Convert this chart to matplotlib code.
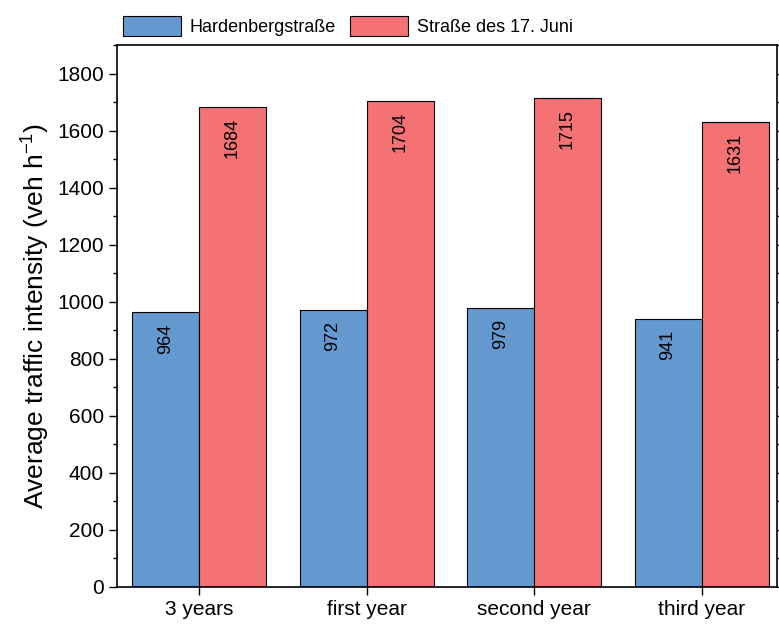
import matplotlib.pyplot as plt
import numpy as np
from matplotlib.ticker import MultipleLocator

categories = ["3 years", "first year", "second year", "third year"]
hardenberg = [964, 972, 979, 941]
juni = [1684, 1704, 1715, 1631]

plt.rcParams['font.family'] = ['Liberation Sans', 'DejaVu Sans']
plt.rcParams['axes.unicode_minus'] = False

fig = plt.figure(figsize=(7.79, 6.26), dpi=100)
ax = fig.add_axes([117/779, 1-587/626, 660/779, 542/626])

x = np.arange(len(categories))
w = 0.4
b1 = ax.bar(x - w/2, hardenberg, w, color="#6499cf", edgecolor="black", linewidth=0.8, label="Hardenbergstraße")
b2 = ax.bar(x + w/2, juni, w, color="#f47174", edgecolor="black", linewidth=0.8, label="Straße des 17. Juni")

for bars, vals in ((b1, hardenberg), (b2, juni)):
    for r, v in zip(bars, vals):
        ax.text(r.get_x() + r.get_width()/2, v - 40, str(v), rotation=90,
                ha="center", va="top", fontsize=13)

ax.set_ylim(0, 1900)
ax.set_xlim(-0.49, 3.45)
ax.set_xticks(x)
ax.set_xticklabels(categories, fontsize=15)
ax.yaxis.set_major_locator(MultipleLocator(200))
ax.yaxis.set_minor_locator(MultipleLocator(100))
ax.tick_params(axis="y", which="both", right=True, labelsize=15)
ax.tick_params(axis="y", which="major", length=6, width=1)
ax.tick_params(axis="y", which="minor", length=3, width=1)
ax.tick_params(axis="x", length=6, width=1)
ax.set_ylabel("Average traffic intensity (veh h$^{\\mathregular{-1}}$)", fontsize=19)
for s in ax.spines.values():
    s.set_linewidth(1.2)

ax.legend(loc="lower left", bbox_to_anchor=(-0.005, 1.0), ncol=2, frameon=False,
          fontsize=13, handlelength=3.2, handleheight=1.3, columnspacing=0.8,
          handletextpad=0.5, borderaxespad=0.1)

fig.savefig("out.png", dpi=100)
